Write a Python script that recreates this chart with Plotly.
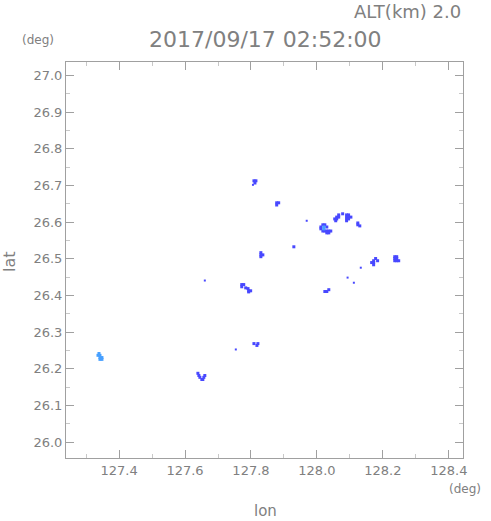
import plotly.graph_objects as go

# Echo cells (lon, lat)
blue_lon = [127.809, 127.815, 127.812,
            127.878, 127.884, 127.878,
            128.012, 128.018, 128.024, 128.018, 128.024, 128.030, 128.036, 128.042, 128.036, 128.030, 128.030, 128.012,
            128.054, 128.060, 128.066, 128.066, 128.060, 128.057,
            128.078,
            128.090, 128.096, 128.090, 128.096, 128.103, 128.090, 128.096, 128.090,
            128.124, 128.124, 128.130,
            127.930,
            127.830, 127.836, 127.830, 127.830,
            128.178, 128.184, 128.172, 128.166, 128.172, 128.172,
            128.236, 128.242, 128.236, 128.242, 128.236, 128.242, 128.248,
            127.772, 127.778, 127.772, 127.784, 127.791, 127.793, 127.799, 127.793,
            128.024, 128.030, 128.036,
            127.639, 127.642, 127.645, 127.651, 127.657, 127.660, 127.654,
            127.809, 127.821, 127.818]
blue_lat = [26.713, 26.713, 26.707,
            26.653, 26.653, 26.647,
            26.582, 26.593, 26.593, 26.576, 26.576, 26.576, 26.576, 26.576, 26.571, 26.571, 26.587, 26.587,
            26.609, 26.614, 26.620, 26.614, 26.609, 26.604,
            26.623,
            26.620, 26.620, 26.614, 26.614, 26.614, 26.609, 26.609, 26.604,
            26.598, 26.593, 26.590,
            26.533,
            26.517, 26.511, 26.511, 26.506,
            26.501, 26.495, 26.495, 26.490, 26.490, 26.484,
            26.506, 26.506, 26.501, 26.501, 26.495, 26.495, 26.495,
            26.430, 26.430, 26.424, 26.421, 26.419, 26.413, 26.413, 26.410,
            26.411, 26.411, 26.416,
            26.188, 26.182, 26.177, 26.171, 26.177, 26.182, 26.171,
            26.269, 26.269, 26.264]

dot_lon = [127.806, 127.969, 128.133, 128.093, 128.112, 127.660, 127.754]
dot_lat = [26.702, 26.604, 26.476, 26.449, 26.435, 26.441, 26.253]

light_lon = [128.021, 128.021,
             127.339, 127.336, 127.342, 127.342, 127.348, 127.348, 127.342]
light_lat = [26.587, 26.582,
             26.242, 26.237, 26.237, 26.231, 26.231, 26.226, 26.226]

x_ticks = [127.4, 127.6, 127.8, 128.0, 128.2, 128.4]
y_ticks = [26.0, 26.1, 26.2, 26.3, 26.4, 26.5, 26.6, 26.7, 26.8, 26.9, 27.0]

BLUE = "#4848ff"
LIGHT = "#48a0ff"
GREY = "#808080"
AX = "#a0a0a0"
FONT = "DejaVu Sans"

fig = go.Figure()
fig.add_trace(go.Scatter(x=blue_lon, y=blue_lat, mode="markers",
                         marker=dict(symbol="square", size=3, color=BLUE, line=dict(width=0)),
                         hoverinfo="skip"))
fig.add_trace(go.Scatter(x=dot_lon, y=dot_lat, mode="markers",
                         marker=dict(symbol="square", size=2, color=BLUE, line=dict(width=0)),
                         hoverinfo="skip"))
fig.add_trace(go.Scatter(x=light_lon, y=light_lat, mode="markers",
                         marker=dict(symbol="square", size=3, color=LIGHT, line=dict(width=0)),
                         hoverinfo="skip"))

axis_common = dict(showgrid=False, zeroline=False, showline=True, linecolor=AX, linewidth=1,
                   mirror="ticks", ticks="inside", ticklen=8, tickcolor=AX, tickwidth=1,
                   tickfont=dict(family=FONT, size=13, color=GREY))

fig.update_xaxes(range=[127.239, 128.443], tickvals=x_ticks,
                 ticktext=[f"{v:.1f}" for v in x_ticks], **axis_common)
fig.update_xaxes(minor=dict(tickvals=[127.3, 127.5, 127.7, 127.9, 128.1, 128.3], ticks="inside", ticklen=4, tickcolor="#c8c8c8"))
fig.update_yaxes(range=[25.957, 27.037], tickvals=y_ticks,
                 ticktext=[f"{v:.1f}" for v in y_ticks], **axis_common)
fig.update_yaxes(minor=dict(tickvals=[round(25.95 + 0.1 * i, 2) for i in range(11)], ticks="inside", ticklen=4, tickcolor="#c8c8c8"))

fig.update_layout(
    width=491, height=521,
    margin=dict(l=66, r=28, t=62, b=63),
    paper_bgcolor="white", plot_bgcolor="white",
    showlegend=False,
    annotations=[
        dict(text="ALT(km) 2.0", x=463, y=521 - 12, xref="paper", yref="paper", showarrow=False,
             font=dict(family=FONT, size=18, color=GREY), xanchor="right", yanchor="middle"),
        dict(text="2017/09/17 02:52:00", x=265, y=521 - 40, xref="paper", yref="paper", showarrow=False,
             font=dict(family=FONT, size=22, color=GREY), xanchor="center", yanchor="middle"),
        dict(text="(deg)", x=38, y=521 - 40, xref="paper", yref="paper", showarrow=False,
             font=dict(family=FONT, size=12, color=GREY), xanchor="center", yanchor="middle"),
        dict(text="(deg)", x=483, y=521 - 489, xref="paper", yref="paper", showarrow=False,
             font=dict(family=FONT, size=12, color=GREY), xanchor="right", yanchor="middle"),
        dict(text="lon", x=265, y=521 - 511, xref="paper", yref="paper", showarrow=False,
             font=dict(family=FONT, size=15, color=GREY), xanchor="center", yanchor="middle"),
        dict(text="lat", x=9, y=521 - 262, xref="paper", yref="paper", showarrow=False, textangle=-90,
             font=dict(family=FONT, size=16, color=GREY), xanchor="center", yanchor="middle"),
    ],
)

# convert pixel-positioned annotations into paper coords
pw, ph = 491 - 66 - 28, 521 - 62 - 63
for a in fig.layout.annotations:
    a.x = (a.x - 66) / pw
    a.y = (a.y - 63) / ph

fig.write_html("out.html", config={"displayModeBar": False},
               post_script="document.body.style.margin='0';document.body.style.overflow='hidden';")
